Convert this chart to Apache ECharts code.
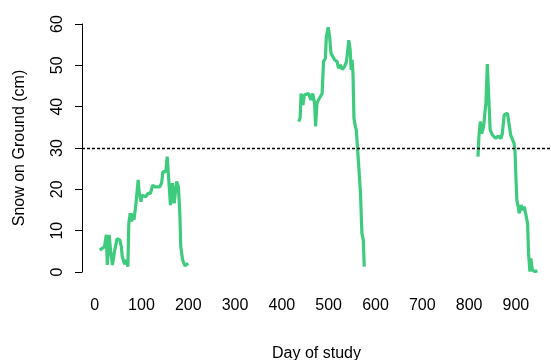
<!DOCTYPE html>
<html>
<head>
<meta charset="utf-8">
<script src="https://cdn.jsdelivr.net/npm/echarts@6/dist/echarts.min.js"></script>
<style>html,body{margin:0;padding:0;background:#fff}#c{width:551px;height:360px}</style>
</head>
<body>
<div id="c"></div>
<script>
// Season 1
var days1 = [11,21,25,27,31,34,38,43,48,54,57,59,64,68,71,73,76,79,81,84,88,93,95,99,101,105,109,114,119,124,129,133,139,143,146,152,155,159,162,166,170,175,179,182,184,188,193,200];
var snow1 = [5.3,6.1,9,1.7,9,5.3,1.7,5.3,8.1,7.7,6.1,3.7,1.9,2.9,1.3,11.8,14.2,12.2,14.2,12.6,16.2,22.3,19.4,17,18.6,18.2,18.2,19,19,21,20.6,21,20.6,21.5,24.3,24.3,27.9,27.9,16.2,21.5,16.6,21.9,20.6,14.2,6.1,2.9,1.5,2.1];
// Season 2
var days2 = [436,439,441,445,448,452,457,462,466,470,472,475,478,482,486,489,493,495,499,502,505,509,513,518,521,525,529,534,538,541,543,546,548,550,552,554,557,559,562,568,571,574,576];
var snow2 = [36.4,37.2,43.2,40.4,42.8,42.4,43.2,41.6,43.2,40.8,35.2,40.8,41.6,42,43.2,50.9,51.7,56.9,59.2,56.9,52.9,52.1,51.3,50.9,49.3,50.1,49,49.7,50.9,51.3,56.1,53.7,48.9,51.3,48,37.2,35.2,34.4,29.5,19,9.4,7.7,1.3];
// Season 3
var days3 = [819,821,824,827,831,834,836,839,842,845,850,857,862,868,871,875,878,882,885,889,893,896,898,900,902,905,907,911,914,918,921,925,927,930,932,935,941,946];
var snow3 = [27.9,32.7,36.4,33.5,35.2,38.8,40.8,50.3,42.4,34.4,33.1,32.3,32.9,32.3,33.5,38,37.6,38.4,38,33.1,32.7,31.1,29.5,23.1,17.4,15.8,14.2,16.2,15,15.8,16.2,11.8,4.5,0.1,3.3,0.5,0.1,0.3];

var xTicks = [0,100,200,300,400,500,600,700,800,900];
var yTicks = [0,10,20,30,40,50,60];
var threshold = 30;

function pairs(d, v){ return d.map(function(x,i){ return [x, v[i]]; }); }

var green = '#3ECB7E';
function seg(d, v, extra){
  var s = {type:'line', data:pairs(d,v), showSymbol:false, symbol:'none',
    lineStyle:{color:green, width:3.2}, itemStyle:{color:green}, animation:false};
  if (extra) for (var k in extra) s[k]=extra[k];
  return s;
}

var chart = echarts.init(document.getElementById('c'), null, {renderer:'canvas'});
chart.setOption({
  animation:false,
  backgroundColor:'#fff',
  grid:{left:82, right:0, top:24, height:248, containLabel:false, outerBoundsMode:'none'},
  xAxis:{type:'value', min:-27, max:975,
    axisLine:{show:false, onZero:false}, axisTick:{show:false}, splitLine:{show:false},
    axisLabel:{customValues:xTicks, fontFamily:'Liberation Sans, Arial', fontSize:16, color:'#000', margin:26},
    name:'Day of study', nameLocation:'middle', nameGap:74,
    nameTextStyle:{fontFamily:'Liberation Sans, Arial', fontSize:16, color:'#000'}},
  yAxis:{type:'value', min:0, max:60, interval:10,
    axisLine:{show:true, onZero:false, lineStyle:{color:'#000', width:1}},
    axisTick:{show:true, inside:false, length:7, lineStyle:{color:'#000'}},
    splitLine:{show:false},
    axisLabel:{customValues:yTicks, rotate:90, fontFamily:'Liberation Sans, Arial', fontSize:16, color:'#000', margin:16},
    name:'Snow on Ground (cm)', nameLocation:'middle', nameGap:54, nameRotate:90,
    nameTextStyle:{fontFamily:'Liberation Sans, Arial', fontSize:16, color:'#000'}},
  series:[
    seg(days1, snow1, {markLine:{silent:true, symbol:'none', animation:false,
      label:{show:false},
      lineStyle:{color:'#000', type:[3,2], width:1.3},
      data:[{yAxis:threshold}]}}),
    seg(days2, snow2),
    seg(days3, snow3)
  ]
});
</script>
</body>
</html>
